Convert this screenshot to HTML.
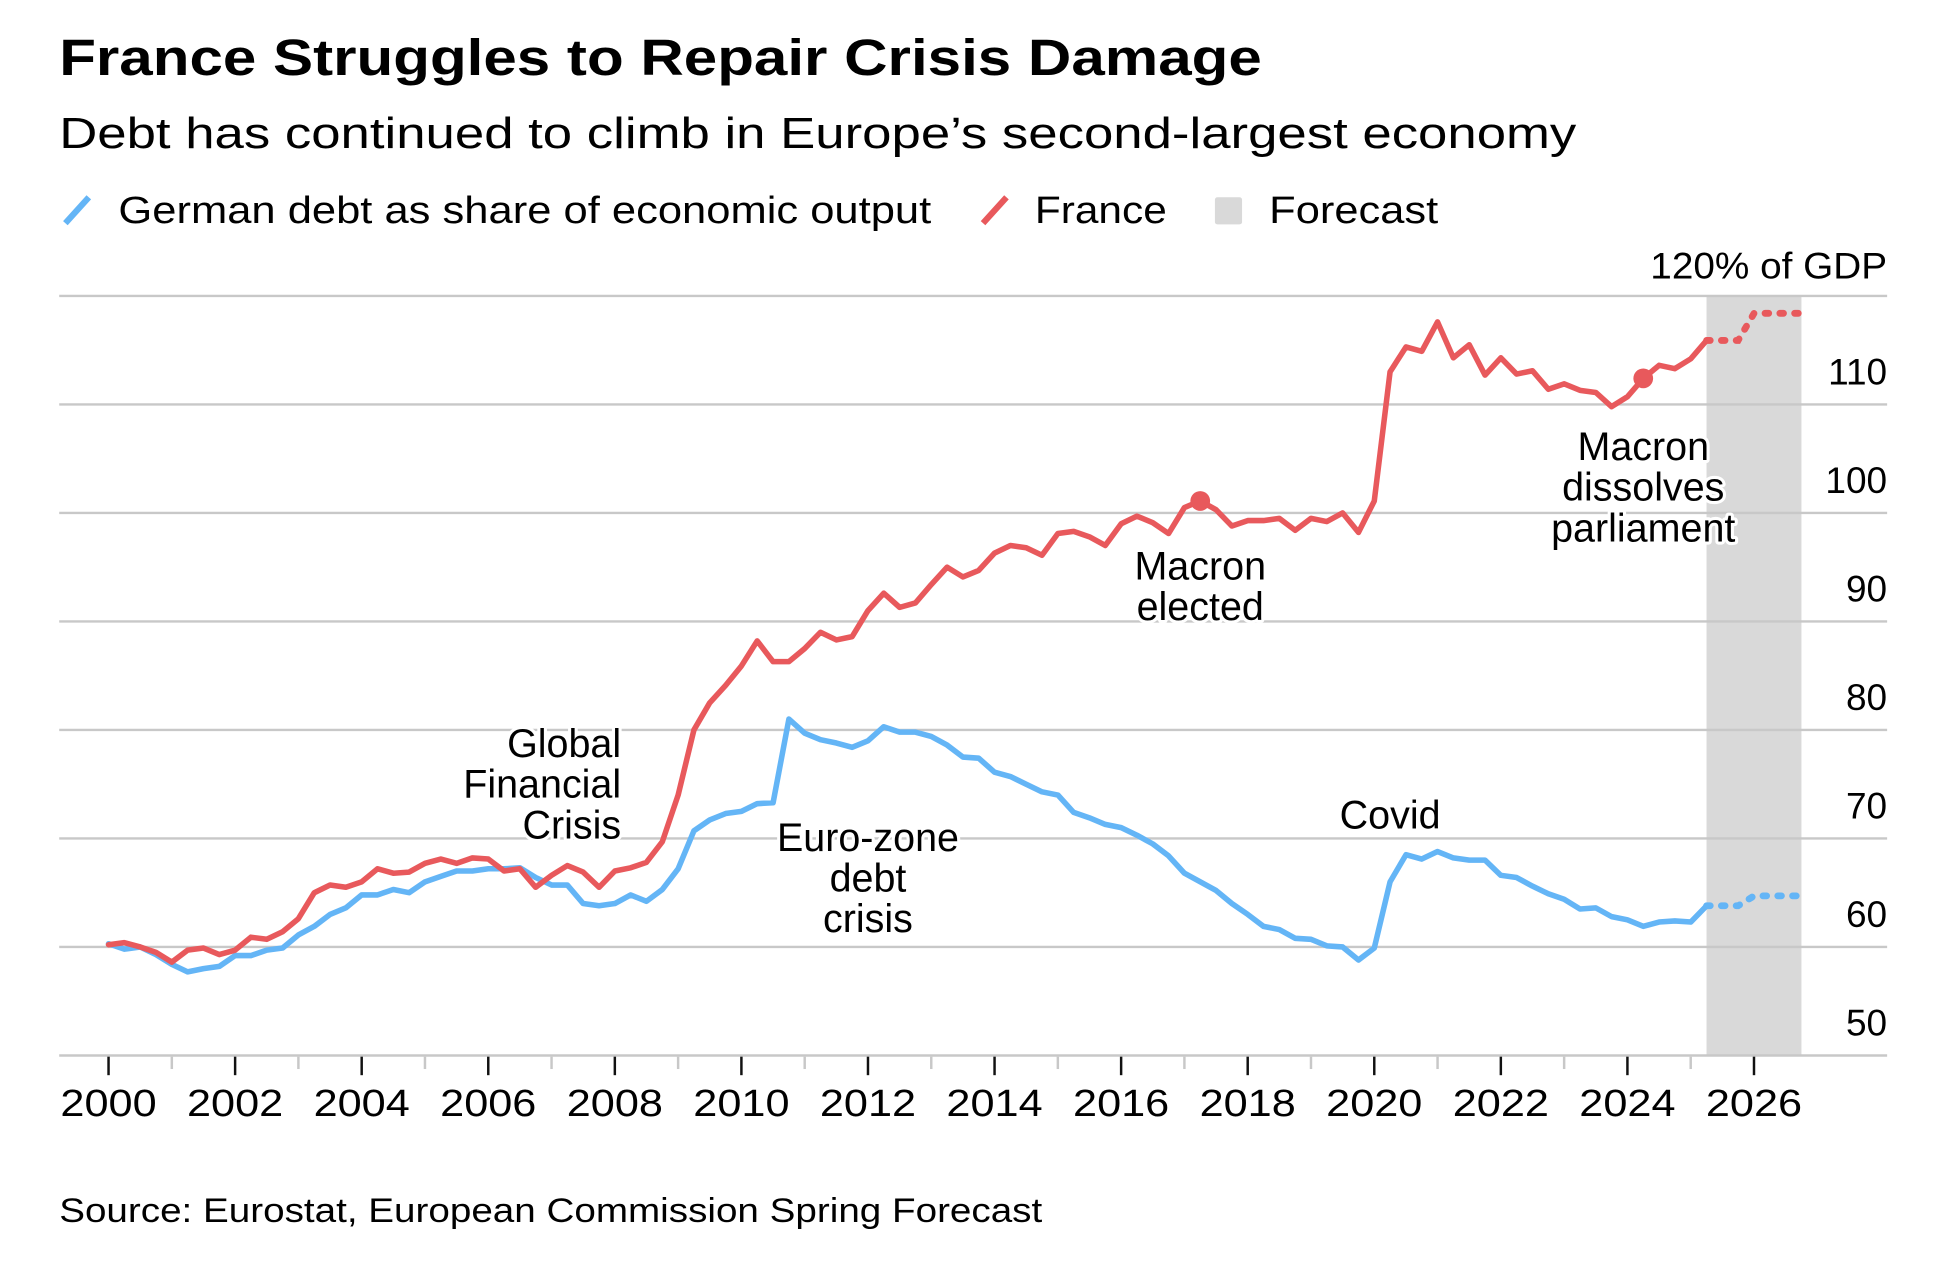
<!DOCTYPE html>
<html><head><meta charset="utf-8"><style>
html,body{margin:0;padding:0;background:#fff;}
svg{display:block;font-family:"Liberation Sans",Arial,sans-serif;}
</style></head><body>
<svg id="chart" width="1934" height="1270" viewBox="0 0 1568 1030" preserveAspectRatio="none" xmlns="http://www.w3.org/2000/svg">
<text x="48" y="61" font-size="41" font-weight="bold" textLength="975" lengthAdjust="spacingAndGlyphs">France Struggles to Repair Crisis Damage</text>
<text x="48" y="120" font-size="35" textLength="1230" lengthAdjust="spacingAndGlyphs">Debt has continued to climb in Europe’s second-largest economy</text>
<g>
<line x1="53" y1="181" x2="72" y2="160" stroke="#64b5f6" stroke-width="5"/>
<text x="96" y="181" font-size="31" textLength="659" lengthAdjust="spacingAndGlyphs">German debt as share of economic output</text>
<line x1="797" y1="181" x2="816" y2="160" stroke="#e8595c" stroke-width="5"/>
<text x="839" y="181" font-size="31" textLength="107" lengthAdjust="spacingAndGlyphs">France</text>
<rect x="985" y="160" width="22" height="22" rx="2" fill="#d9d9d9"/>
<text x="1029" y="181" font-size="31" textLength="137" lengthAdjust="spacingAndGlyphs">Forecast</text>
</g>
<g id="plot"></g>
<text x="48" y="991" font-size="28" textLength="797" lengthAdjust="spacingAndGlyphs">Source: Eurostat, European Commission Spring Forecast</text>
</svg>
<script>
const startYear = 2000;
const franceValues = [60.2,60.4,60,59.5,58.6,59.7,59.9,59.3,59.7,60.9,60.7,61.4,62.6,65,65.7,65.5,66,67.2,66.8,66.9,67.7,68.1,67.7,68.2,68.1,67,67.2,65.5,66.6,67.5,66.9,65.5,67,67.3,67.8,69.7,74,80,82.5,84.1,85.9,88.2,86.3,86.3,87.5,89,88.3,88.6,91,92.6,91.3,91.7,93.4,95,94.1,94.7,96.3,97,96.8,96.1,98.1,98.3,97.8,97,99,99.7,99.1,98.1,100.5,101.1,100.3,98.8,99.3,99.3,99.5,98.4,99.5,99.2,100,98.2,101.1,113,115.3,114.9,117.6,114.3,115.5,112.7,114.3,112.8,113.1,111.4,111.9,111.3,111.1,109.8,110.7,112.4,113.6,113.3,114.2,115.9];
const germanyValues = [60.3,59.8,60,59.3,58.4,57.7,58,58.2,59.2,59.2,59.7,59.9,61.1,61.9,63,63.6,64.8,64.8,65.3,65,66,66.5,67,67,67.2,67.2,67.3,66.4,65.7,65.7,64,63.8,64,64.8,64.2,65.3,67.2,70.7,71.7,72.3,72.5,73.2,73.3,81,79.7,79.1,78.8,78.4,79,80.3,79.8,79.8,79.4,78.6,77.5,77.4,76.1,75.7,75,74.3,74,72.4,71.9,71.3,71,70.3,69.5,68.4,66.8,66,65.2,64,63,61.9,61.6,60.8,60.7,60.1,60,58.8,59.9,66,68.5,68.1,68.8,68.2,68,68,66.6,66.4,65.6,64.9,64.4,63.5,63.6,62.8,62.5,61.9,62.3,62.4,62.3,63.8];
const forecastYears = [2025.25,2025.75,2026,2026.75];
const franceForecast = [115.9,115.9,118.4,118.4];
const germanyForecast = [63.8,63.8,64.7,64.7];
const yTicks = [50,60,70,80,90,100,110];
const xTickYears = [2000,2002,2004,2006,2008,2010,2012,2014,2016,2018,2020,2022,2024,2026];
const annotations = [
 {name:'annotation-gfc', lines:['Global','Financial','Crisis'], year:2008.1, anchor:'end', y:603},
 {name:'annotation-eurozone', lines:['Euro-zone','debt','crisis'], year:2012, anchor:'middle', y:679},
 {name:'annotation-macron-elected', lines:['Macron','elected'], year:2017.25, anchor:'middle', y:459},
 {name:'annotation-covid', lines:['Covid'], year:2020.25, anchor:'middle', y:661},
 {name:'annotation-macron-dissolves', lines:['Macron','dissolves','parliament'], year:2024.25, anchor:'middle', y:362}
];
const markerIndexFrance = [69, 97];

const NS='http://www.w3.org/2000/svg';
const x = yr => 88 + (yr-2000)*51.31;
const y = v => 856 - (v-50)*8.8;
const plot = document.getElementById('plot');
function mk(tag, attrs, parent){const e=document.createElementNS(NS,tag);for(const k in attrs)e.setAttribute(k,attrs[k]);(parent||plot).appendChild(e);return e;}

let shade = mk('rect',{x:x(2025.25),y:y(120),width:x(2026.75)-x(2025.25),height:y(50)-y(120),fill:'#d9d9d9'});


[...yTicks,120].forEach(v=>{
 if(v===50) return;
 const g = mk('line',{x1:48,x2:1530,y1:y(v),y2:y(v),stroke:'#c8c8c8','stroke-width':2});
 
 
});
yTicks.forEach(v=>{
 const t = mk('text',{x:1530,y:y(v)-16,'font-size':30,'text-anchor':'end'});
 t.textContent = v;
 
 
});
const topLbl = mk('text',{x:1530,y:226,'font-size':30,'text-anchor':'end',textLength:192,lengthAdjust:'spacingAndGlyphs'});
topLbl.textContent='120% of GDP';


const ax = mk('line',{x1:48,x2:1530,y1:856,y2:856,stroke:'#c8c8c8','stroke-width':2});


for(let yr=2000; yr<=2026; yr++){
 const major = xTickYears.includes(yr);
 const tk = mk('line',{x1:x(yr),x2:x(yr),y1:857,y2:major?872:867,stroke:major?'#111':'#c8c8c8','stroke-width':2});
 
 
}
xTickYears.forEach(yr=>{
 const t = mk('text',{x:x(yr),y:905,'font-size':31,'text-anchor':'middle',textLength:78,lengthAdjust:'spacingAndGlyphs'});
 t.textContent = yr;
 
 
});
function pts(vals){return vals.map((v,i)=>x(startYear+i/4).toFixed(1)+','+y(v).toFixed(1)).join(' ');}
function fpts(vals){return vals.map((v,i)=>x(forecastYears[i]).toFixed(1)+','+y(v).toFixed(1)).join(' ');}
const gl = mk('polyline',{points:pts(germanyValues),fill:'none',stroke:'#64b5f6','stroke-width':4.5,'stroke-linejoin':'round','stroke-linecap':'round'});


const gf = mk('polyline',{points:fpts(germanyForecast),fill:'none',stroke:'#64b5f6','stroke-width':5.5,'stroke-dasharray':'3 9','stroke-linecap':'round'});


const fl = mk('polyline',{points:pts(franceValues),fill:'none',stroke:'#e8595c','stroke-width':4.5,'stroke-linejoin':'round','stroke-linecap':'round'});


const ff = mk('polyline',{points:fpts(franceForecast),fill:'none',stroke:'#e8595c','stroke-width':5.5,'stroke-dasharray':'3 9','stroke-linecap':'round'});


markerIndexFrance.forEach(i=>{
 const c = mk('circle',{cx:x(startYear+i/4),cy:y(franceValues[i]),r:8,fill:'#e8595c'});
 
 
});
annotations.forEach(a=>{
 a.lines.forEach((ln,k)=>{
  const t = mk('text',{x:x(a.year),y:a.y+11+k*33,'font-size':32,'text-anchor':a.anchor,stroke:'#fff','stroke-width':5,'paint-order':'stroke','stroke-linejoin':'round'});
  t.textContent = ln;
  
  
 });
});
</script>
</body></html>
